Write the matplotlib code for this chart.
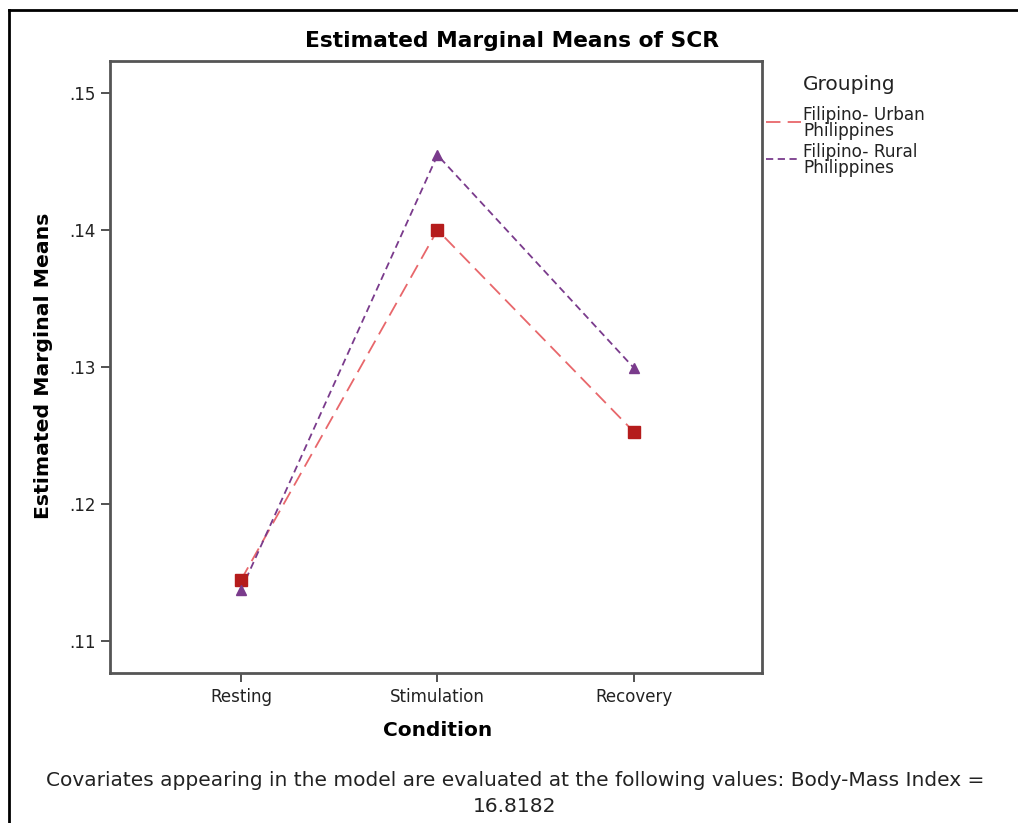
import matplotlib
matplotlib.use("Agg")
import matplotlib.pyplot as plt
from matplotlib.lines import Line2D

plt.rcParams['font.family'] = ['DejaVu Sans']

conditions = ["Resting", "Stimulation", "Recovery"]
urban = [0.11445, 0.1400, 0.12526]
rural = [0.11372, 0.14547, 0.12993]
group_labels = ["Filipino- Urban\nPhilippines", "Filipino- Rural\nPhilippines"]
y_ticks = [0.11, 0.12, 0.13, 0.14, 0.15]
y_tick_labels = [".11", ".12", ".13", ".14", ".15"]

W, H = 1018, 823
fig = plt.figure(figsize=(W / 100, H / 100), dpi=100)


def fy(py):
    return 1 - py / H


# outer frame (left and top edges only)
fig.add_artist(Line2D([9 / W, 9 / W], [0, fy(10)], transform=fig.transFigure,
                      color="black", lw=2))
fig.add_artist(Line2D([9 / W, 1], [fy(10), fy(10)], transform=fig.transFigure,
                      color="black", lw=2))

ax = fig.add_axes([110 / W, fy(673), 652 / W, 612 / H])
x = list(range(len(conditions)))

urban_line_color = "#e8676b"
urban_marker_color = "#b51c1c"
rural_color = "#7a3b8c"
urban_ls = (0, (8, 4))
rural_ls = (0, (4, 2.5))

ax.plot(x, urban, linestyle=urban_ls, color=urban_line_color, lw=1.3, zorder=2)
ax.plot(x, urban, linestyle="none", marker="s", markersize=9,
        color=urban_marker_color, zorder=4)
ax.plot(x, rural, linestyle=rural_ls, color=rural_color, lw=1.3, zorder=3)
ax.plot(x, rural, linestyle="none", marker="^", markersize=7,
        color=rural_color, zorder=5)

ax.set_xlim(-0.667, 2.652)
ax.set_ylim(0.10766, 0.15234)
ax.set_xticks(x)
ax.set_xticklabels(conditions, fontsize=12, color="#222222")
ax.set_yticks(y_ticks)
ax.set_yticklabels(y_tick_labels, fontsize=12, color="#222222")
ax.tick_params(axis="both", length=6.5, width=1.2, color="#333333", pad=4)

for s in ax.spines.values():
    s.set_color("#555555")
    s.set_linewidth(2)

fig.text(512 / W, fy(41), "Estimated Marginal Means of SCR", fontsize=15.7,
         fontweight="bold", ha="center", va="center")
fig.text(438 / W, fy(731), "Condition", fontsize=14.5, fontweight="bold",
         ha="center", va="center")
fig.text(44 / W, fy(366), "Estimated Marginal Means", fontsize=14.7,
         fontweight="bold", ha="center", va="center", rotation=90)

# legend
fig.text(803 / W, fy(85), "Grouping", fontsize=14.5, color="#222222",
         ha="left", va="center")
legend_rows = [(122, urban_line_color, urban_ls), (159, rural_color, rural_ls)]
for (yy, col, ls), lab in zip(legend_rows, group_labels):
    fig.add_artist(Line2D([766 / W, 801 / W], [fy(yy), fy(yy)],
                          transform=fig.transFigure, color=col, lw=1.3, linestyle=ls))
    fig.text(803 / W, fy(yy + 1), lab, fontsize=12.2, color="#222222",
             ha="left", va="center", linespacing=0.88)

fig.text(515 / W, fy(781),
         "Covariates appearing in the model are evaluated at the following values: Body-Mass Index =",
         fontsize=14.5, color="#222222", ha="center", va="center")
fig.text(515 / W, fy(806), "16.8182", fontsize=14.5, color="#222222",
         ha="center", va="center")

fig.savefig("out.png", dpi=100)
